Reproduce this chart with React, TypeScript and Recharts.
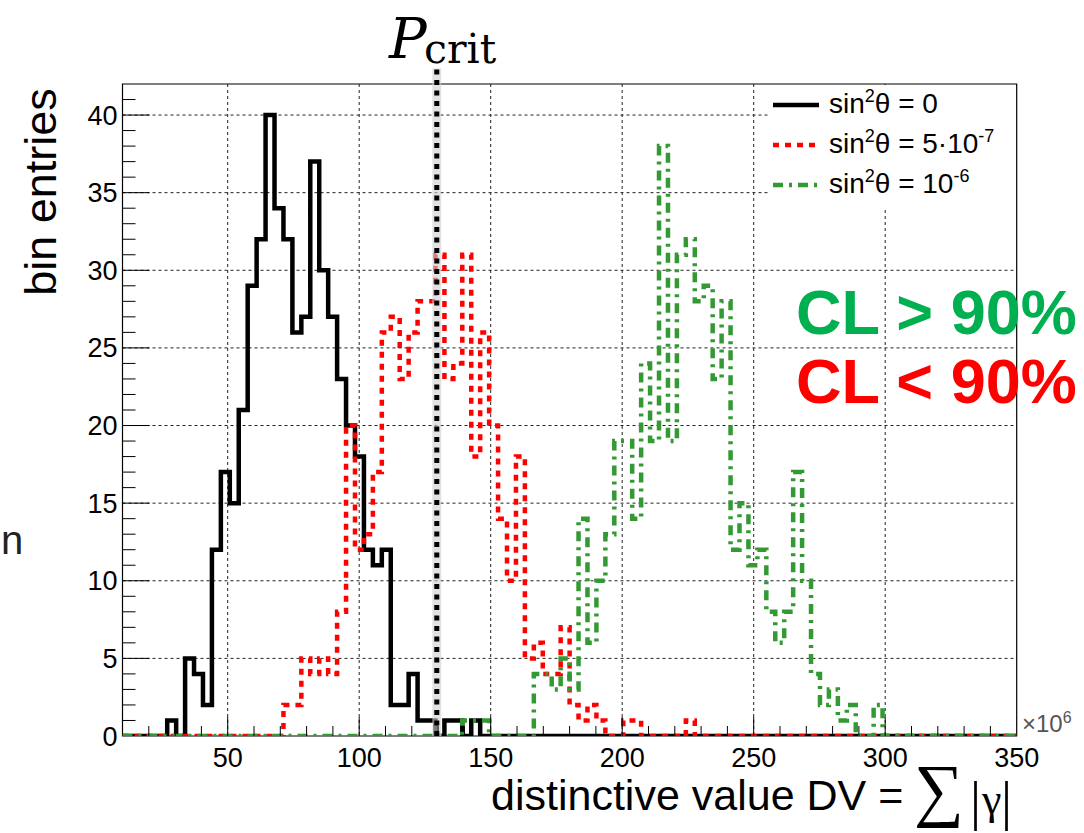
import React from "react";
import {
  LineChart,
  Line,
  XAxis,
  YAxis,
  CartesianGrid,
  Legend,
  ReferenceLine,
  ReferenceArea,
} from "recharts";

// 100 bins between 10 and 350 (x 10^6)
const BIN_START = 10;
const BIN_WIDTH = 3.4;
const X_MIN = 10;
const X_MAX = 350;
const Y_MAX = 42;
const P_CRIT = 129.5;

// bin entries, one value per bin
const countsNoMix = [
  0, 0, 0, 0, 0, 1, 0, 5, 4, 2,
  12, 17, 15, 21, 29, 32, 40, 34, 32, 26,
  27, 37, 30, 27, 23, 20, 18, 12, 11, 12,
  2, 2, 4, 1, 1, 0, 1, 1, 0, 1,
  0, 0, 0, 0, 0, 0, 0, 0, 0, 0,
  0, 0, 0, 0, 0, 0, 0, 0, 0, 0,
  0, 0, 0, 0, 0, 0, 0, 0, 0, 0,
  0, 0, 0, 0, 0, 0, 0, 0, 0, 0,
  0, 0, 0, 0, 0, 0, 0, 0, 0, 0,
  0, 0, 0, 0, 0, 0, 0, 0, 0, 0,
];

const counts5e7 = [
  0, 0, 0, 0, 0, 0, 0, 0, 0, 0,
  0, 0, 0, 0, 0, 0, 0, 0, 2, 2,
  5, 4, 5, 4, 8, 20, 12, 13, 17, 26,
  27, 23, 26, 28, 28, 31, 23, 24, 31, 18,
  26, 20, 14, 10, 18, 5, 6, 4, 4, 7,
  2, 1, 2, 1, 0, 0, 1, 1, 0, 0,
  0, 0, 0, 1, 0, 0, 0, 0, 0, 0,
  0, 0, 0, 0, 0, 0, 0, 0, 0, 0,
  0, 0, 0, 0, 0, 0, 0, 0, 0, 0,
  0, 0, 0, 0, 0, 0, 0, 0, 0, 0,
];

const counts1e6 = [
  0, 0, 0, 0, 0, 0, 0, 0, 0, 0,
  0, 0, 0, 0, 0, 0, 0, 0, 0, 0,
  0, 0, 0, 0, 0, 0, 0, 0, 0, 0,
  0, 0, 0, 0, 0, 0, 0, 0, 1, 1,
  1, 0, 0, 0, 0, 0, 4, 4, 3, 5,
  3, 14, 6, 10, 13, 19, 19, 14, 24, 19,
  38, 19, 31, 32, 28, 29, 23, 28, 12, 15,
  11, 12, 8, 6, 8, 17, 10, 4, 2, 3,
  1, 2, 0, 0, 2, 0, 0, 0, 0, 0,
  0, 0, 0, 0, 0, 0, 0, 0, 0, 0,
];

const xTicks = [
  10, 20, 30, 40, 50, 60, 70, 80, 90, 100, 110, 120, 130, 140, 150, 160, 170, 180,
  190, 200, 210, 220, 230, 240, 250, 260, 270, 280, 290, 300, 310, 320, 330, 340, 350,
];
const yTicks = [
  0, 1, 2, 3, 4, 5, 6, 7, 8, 9, 10, 11, 12, 13, 14, 15, 16, 17, 18, 19, 20, 21,
  22, 23, 24, 25, 26, 27, 28, 29, 30, 31, 32, 33, 34, 35, 36, 37, 38, 39, 40, 41, 42,
];
const xGrid = [50, 100, 150, 200, 250, 300];
const yGrid = [5, 10, 15, 20, 25, 30, 35, 40];

const SERIES = [
  { key: "noMix", value: "0", exp: "", color: "#000000", dash: undefined as string | undefined },
  { key: "mix5e7", value: "5\u00b710", exp: "-7", color: "#ff0000", dash: "6 6" },
  { key: "mix1e6", value: "10", exp: "-6", color: "#339933", dash: "10 6 3 6" },
];

const histData = countsNoMix.map((_, i) => ({
  x: Math.round((BIN_START + i * BIN_WIDTH) * 100) / 100,
  noMix: countsNoMix[i],
  mix5e7: counts5e7[i],
  mix1e6: counts1e6[i],
}));
// closing edge of the last bin
histData.push({
  x: X_MAX,
  noMix: countsNoMix[countsNoMix.length - 1],
  mix5e7: counts5e7[counts5e7.length - 1],
  mix1e6: counts1e6[counts1e6.length - 1],
});

const W = 1084;
const H = 833;
const PLOT_LEFT = 122.5;
const PLOT_RIGHT = 1016.7;
const PLOT_TOP = 84;
const PLOT_BOTTOM = 736;
const Y_AXIS_W = 60;
const X_AXIS_H = 50;
const FONT = '"Liberation Sans", Arial, sans-serif';
const SERIF = '"Liberation Serif", "Times New Roman", serif';
const MATH = '"DejaVu Serif", serif';

const XTick = (props: any) => {
  const { x, payload } = props;
  const v = payload.value;
  const major = v % 50 === 0;
  return (
    <g>
      {v > X_MIN && v < X_MAX && (
        <line x1={x} x2={x} y1={PLOT_BOTTOM} y2={PLOT_BOTTOM - (major ? 19 : 10)} stroke="#000" strokeWidth={1} />
      )}
      {major && (
        <text x={x} y={PLOT_BOTTOM + 31} textAnchor="middle" fontSize={27} fontFamily={FONT} fill="#000">
          {v}
        </text>
      )}
    </g>
  );
};

const YTick = (props: any) => {
  const { y, payload } = props;
  const v = payload.value;
  const major = v % 5 === 0;
  return (
    <g>
      {v > 0 && v < Y_MAX && (
        <line x1={PLOT_LEFT} x2={PLOT_LEFT + (major ? 27 : 13)} y1={y} y2={y} stroke="#000" strokeWidth={1} />
      )}
      {major && (
        <text x={PLOT_LEFT - 5} y={y + 9.5} textAnchor="end" fontSize={27} fontFamily={FONT} fill="#000">
          {v}
        </text>
      )}
    </g>
  );
};

const LegendBox = () => (
  <div
    style={{
      background: "#fff",
      width: 248,
      height: 122,
      paddingLeft: 5,
      boxSizing: "border-box",
      fontFamily: FONT,
      color: "#000",
    }}
  >
    {SERIES.map((s) => (
      <div key={s.key} style={{ display: "flex", alignItems: "center", height: 40 }}>
        <svg width={46} height={10}>
          <line x1={0} x2={46} y1={5} y2={5} stroke={s.color} strokeWidth={4.5} strokeDasharray={s.dash} />
        </svg>
        <span style={{ marginLeft: 10, fontSize: 28, lineHeight: "28px", whiteSpace: "nowrap" }}>
          sin<span style={{ fontSize: 18, position: "relative", top: -11 }}>2</span>
          {"\u03b8 = "}
          {s.value}
          {s.exp && <span style={{ fontSize: 18, position: "relative", top: -11 }}>{s.exp}</span>}
        </span>
      </div>
    ))}
  </div>
);

const abs = (left: number, top: number, extra: React.CSSProperties): React.CSSProperties => ({
  position: "absolute",
  left,
  top,
  lineHeight: 1,
  whiteSpace: "nowrap",
  color: "#000",
  ...extra,
});

export default function App() {
  return (
    <div style={{ position: "absolute", left: 0, top: 0, width: W, height: H, background: "#fff", overflow: "hidden" }}>
      <LineChart
        width={W}
        height={H}
        data={histData}
        margin={{
          top: PLOT_TOP,
          right: W - PLOT_RIGHT,
          left: PLOT_LEFT - Y_AXIS_W,
          bottom: H - PLOT_BOTTOM - X_AXIS_H,
        }}
      >
        <CartesianGrid
          horizontalValues={yGrid}
          verticalValues={xGrid}
          stroke="#222"
          strokeWidth={1}
          strokeDasharray="3 3"
        />
        <XAxis
          dataKey="x"
          type="number"
          domain={[X_MIN, X_MAX]}
          ticks={xTicks}
          interval={0}
          height={X_AXIS_H}
          tick={<XTick />}
          tickLine={false}
          axisLine={false}
          allowDataOverflow
        />
        <YAxis
          type="number"
          domain={[0, Y_MAX]}
          ticks={yTicks}
          interval={0}
          width={Y_AXIS_W}
          tick={<YTick />}
          tickLine={false}
          axisLine={false}
          allowDataOverflow
        />
        <ReferenceArea x1={X_MIN} x2={X_MAX} y1={0} y2={Y_MAX} fill="none" stroke="#000" strokeWidth={1.2} />
        <Line
          dataKey="noMix"
          name="sin2θ = 0"
          type="stepAfter"
          stroke="#000000"
          strokeWidth={4.5}
          dot={false}
          activeDot={false}
          isAnimationActive={false}
        />
        <Line
          dataKey="mix5e7"
          name="sin2θ = 5·10-7"
          type="stepAfter"
          stroke="#ff0000"
          strokeWidth={4.5}
          strokeDasharray="6 6"
          dot={false}
          activeDot={false}
          isAnimationActive={false}
        />
        <Line
          dataKey="mix1e6"
          name="sin2θ = 10-6"
          type="stepAfter"
          stroke="#339933"
          strokeWidth={4.5}
          strokeDasharray="10 6 3 6"
          dot={false}
          activeDot={false}
          isAnimationActive={false}
        />
        <ReferenceLine
          segment={[{ x: P_CRIT, y: 0 }, { x: P_CRIT, y: 43 }]}
          ifOverflow="visible"
          stroke="#cfcfcf"
          strokeWidth={9}
          strokeOpacity={0.6}
        />
        <ReferenceLine
          segment={[{ x: P_CRIT, y: 0 }, { x: P_CRIT, y: 43 }]}
          ifOverflow="visible"
          stroke="#000"
          strokeWidth={5}
          strokeDasharray="5 5.5"
        />
        <Legend
          layout="vertical"
          align="center"
          verticalAlign="middle"
          content={<LegendBox />}
          wrapperStyle={{ left: 768, top: 85, width: 248, height: 122 }}
        />
      </LineChart>

      <div
        style={abs(40, 192, {
          transform: "translate(-50%, -50%) rotate(-90deg)",
          fontFamily: FONT,
          fontSize: 45,
        })}
      >
        bin entries
      </div>

      <div style={abs(1, 520, { fontFamily: FONT, fontSize: 40, color: "#222" })}>n</div>

      <div style={abs(389, 11, { fontFamily: MATH, fontStyle: "italic", fontSize: 56 })}>P</div>
      <div style={abs(424, 29, { fontFamily: MATH, fontSize: 41 })}>crit</div>

      <div style={abs(796, 281, { fontFamily: FONT, fontWeight: 700, fontSize: 63, color: "#00b050" })}>
        {"CL > 90%"}
      </div>
      <div style={abs(796, 350, { fontFamily: FONT, fontWeight: 700, fontSize: 63, color: "#ff0000" })}>
        {"CL < 90%"}
      </div>

      <div style={abs(1022, 712, { fontFamily: FONT, fontSize: 24, color: "#555" })}>
        ×10<span style={{ fontSize: 16, position: "relative", top: -9 }}>6</span>
      </div>

      <div style={abs(491, 774, { fontFamily: FONT, fontSize: 43 })}>{"distinctive value DV ="}</div>
      <div style={abs(914, 755, { fontFamily: SERIF, fontSize: 70 })}>{"\u2211"}</div>
      <div style={abs(970, 773, { fontFamily: SERIF, fontSize: 55 })}>{"|"}</div>
      <div style={abs(982, 778, { fontFamily: SERIF, fontSize: 44 })}>{"\u03b3"}</div>
      <div style={abs(1001, 773, { fontFamily: SERIF, fontSize: 55 })}>{"|"}</div>
    </div>
  );
}
